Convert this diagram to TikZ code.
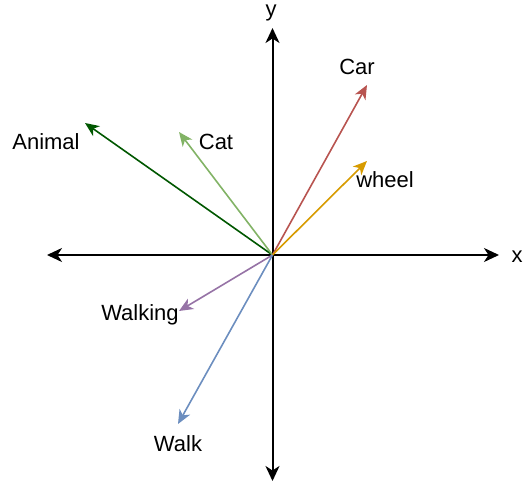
\documentclass[tikz,border=0pt]{standalone}
\usepackage{fontspec}
\setmainfont{Liberation Sans}
\usetikzlibrary{arrows.meta}
\definecolor{cAnimal}{HTML}{005700}
\definecolor{cCat}{HTML}{82B366}
\definecolor{cCar}{HTML}{B85450}
\definecolor{cWheel}{HTML}{D79B00}
\definecolor{cWalking}{HTML}{9673A6}
\definecolor{cWalk}{HTML}{6C8EBF}
\tikzset{
  axisline/.style={line width=2pt, -{Stealth[length=15pt,width=14pt,inset=4.5pt]}},
  vec/.style={line width=1.6pt, -{Stealth[length=14pt,width=12pt,inset=4pt]}},
  lbl/.style={font=\fontsize{22}{26}\selectfont, anchor=base, inner sep=0pt},
}
\begin{document}
\begin{tikzpicture}[x=1pt,y=-1pt]
\useasboundingbox (0,0) rectangle (523,481);
\coordinate (O) at (272.5,255);
\coordinate (xL) at (47,255);
\coordinate (xR) at (499,255);
\coordinate (yT) at (272.5,28);
\coordinate (yB) at (272.5,481);
\coordinate (tAnimal) at (85,123);
\coordinate (tCat) at (179,132);
\coordinate (tCar) at (367,85);
\coordinate (tWheel) at (367,161);
\coordinate (tWalking) at (179,311);
\coordinate (tWalk) at (178,424);
\draw[axisline] (O) -- (xL);
\draw[axisline] (O) -- (xR);
\draw[axisline] (O) -- (yT);
\draw[axisline] (O) -- (yB);
\draw[vec, cAnimal] (O) -- (tAnimal);
\draw[vec, cCat] (O) -- (tCat);
\draw[vec, cCar] (O) -- (tCar);
\draw[vec, cWheel] (O) -- (tWheel);
\draw[vec, cWalking] (O) -- (tWalking);
\draw[vec, cWalk] (O) -- (tWalk);
\node[lbl] (ly) at (271,17) {y};
\node[lbl] (lx) at (517,263) {x};
\node[lbl] (lCar) at (357,75) {Car};
\node[lbl] (lWheel) at (385,188) {wheel};
\node[lbl] (lAnimal) at (46,150) {Animal};
\node[lbl] (lCat) at (216,150) {Cat};
\node[lbl] (lWalking) at (140,320.5) {Walking};
\node[lbl] (lWalk) at (178,452) {Walk};
\end{tikzpicture}
\end{document}
